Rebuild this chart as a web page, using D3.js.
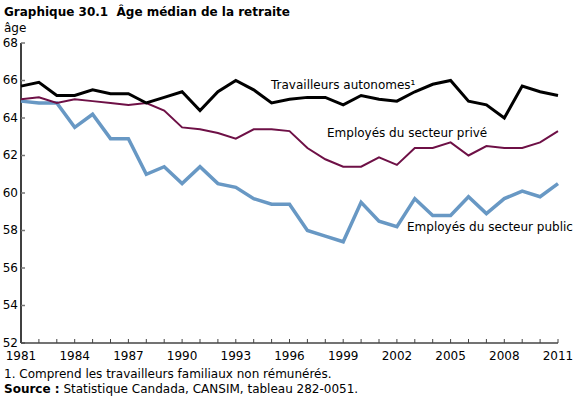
<!DOCTYPE html>
<html lang="fr">
<meta charset="UTF-8">
<title>Âge médian de la retraite</title>
<style>
  body { margin: 0; background: #fff; }
  svg text { font-family: "DejaVu Sans", sans-serif; font-size: 12px; fill: #000; }
</style>
<script src="https://d3js.org/d3.v7.min.js"></script>
<body>
<div id="chart"></div>
<script>
// years and series values (median retirement age)
var years = d3.range(1981, 2012);
var autonomes = [65.7, 65.9, 65.2, 65.2, 65.5, 65.3, 65.3, 64.8, 65.1, 65.4,
                 64.4, 65.4, 66.0, 65.5, 64.8, 65.0, 65.1, 65.1, 64.7, 65.2,
                 65.0, 64.9, 65.4, 65.8, 66.0, 64.9, 64.7, 64.0, 65.7, 65.4, 65.2];
var prive = [65.0, 65.1, 64.8, 65.0, 64.9, 64.8, 64.7, 64.8, 64.4, 63.5,
             63.4, 63.2, 62.9, 63.4, 63.4, 63.3, 62.4, 61.8, 61.4, 61.4,
             61.9, 61.5, 62.4, 62.4, 62.7, 62.0, 62.5, 62.4, 62.4, 62.7, 63.3];
var public_ = [64.9, 64.8, 64.8, 63.5, 64.2, 62.9, 62.9, 61.0, 61.4, 60.5,
               61.4, 60.5, 60.3, 59.7, 59.4, 59.4, 58.0, 57.7, 57.4, 59.5,
               58.5, 58.2, 59.7, 58.8, 58.8, 59.8, 58.9, 59.7, 60.1, 59.8, 60.5];
var yTicks = [52, 54, 56, 58, 60, 62, 64, 66, 68];
var xTicks = [1981, 1984, 1987, 1990, 1993, 1996, 1999, 2002, 2005, 2008, 2011];

var W = 580, H = 410;
var svg = d3.select("#chart").append("svg")
    .attr("width", W).attr("height", H);

var x = d3.scaleLinear().domain([1981, 2011]).range([21, 558]);
var y = d3.scaleLinear().domain([52, 68]).range([343, 43]);

// title
svg.append("text").attr("x", 4).attr("y", 16)
  .style("font-weight", "bold").style("white-space", "pre")
  .text("Graphique 30.1  Âge médian de la retraite");
svg.append("text").attr("x", 4).attr("y", 32).text("âge");

// y axis
svg.append("line").attr("x1", x(1981)).attr("x2", x(1981))
  .attr("y1", y(68)).attr("y2", y(52)).attr("stroke", "#000").attr("stroke-width", 1.5);
svg.selectAll(".yt").data(yTicks).enter().append("line")
  .attr("x1", x(1981)).attr("x2", x(1981) + 4)
  .attr("y1", function(d) { return y(d); }).attr("y2", function(d) { return y(d); })
  .attr("stroke", "#777").attr("stroke-width", 1.5);
svg.selectAll(".yl").data(yTicks).enter().append("text")
  .attr("x", 18).attr("y", function(d) { return y(d); })
  .attr("dy", "0.3em").attr("text-anchor", "end")
  .text(function(d) { return d; });

// x axis
svg.append("line").attr("x1", x(1981)).attr("x2", x(2011))
  .attr("y1", y(52)).attr("y2", y(52)).attr("stroke", "#444").attr("stroke-width", 1.5);
svg.selectAll(".xt").data(years).enter().append("line")
  .attr("x1", function(d) { return x(d); }).attr("x2", function(d) { return x(d); })
  .attr("y1", y(52)).attr("y2", y(52) - 4)
  .attr("stroke", "#444").attr("stroke-width", 1);
svg.selectAll(".xl").data(xTicks).enter().append("text")
  .attr("x", function(d) { return x(d); }).attr("y", y(52) + 17)
  .attr("text-anchor", "middle")
  .text(function(d) { return d; });

// lines
var line = d3.line()
  .x(function(d, i) { return x(years[i]); })
  .y(function(d) { return y(d); });

svg.append("path").datum(public_).attr("d", line)
  .attr("fill", "none").attr("stroke", "#6898c4").attr("stroke-width", 3.5);
svg.append("path").datum(prive).attr("d", line)
  .attr("fill", "none").attr("stroke", "#6e1046").attr("stroke-width", 2);
svg.append("path").datum(autonomes).attr("d", line)
  .attr("fill", "none").attr("stroke", "#000").attr("stroke-width", 3);

// series labels
svg.append("text").attr("x", 271).attr("y", 89).text("Travailleurs autonomes¹");
svg.append("text").attr("x", 327).attr("y", 137).text("Employés du secteur privé");
svg.append("text").attr("x", 407).attr("y", 231).text("Employés du secteur public");

// notes
svg.append("text").attr("x", 4).attr("y", 378)
  .text("1. Comprend les travailleurs familiaux non rémunérés.");
var src = svg.append("text").attr("x", 4).attr("y", 393);
src.append("tspan").style("font-weight", "bold").text("Source :");
src.append("tspan").text(" Statistique Candada, CANSIM, tableau 282-0051.");
</script>
</body>
</html>
